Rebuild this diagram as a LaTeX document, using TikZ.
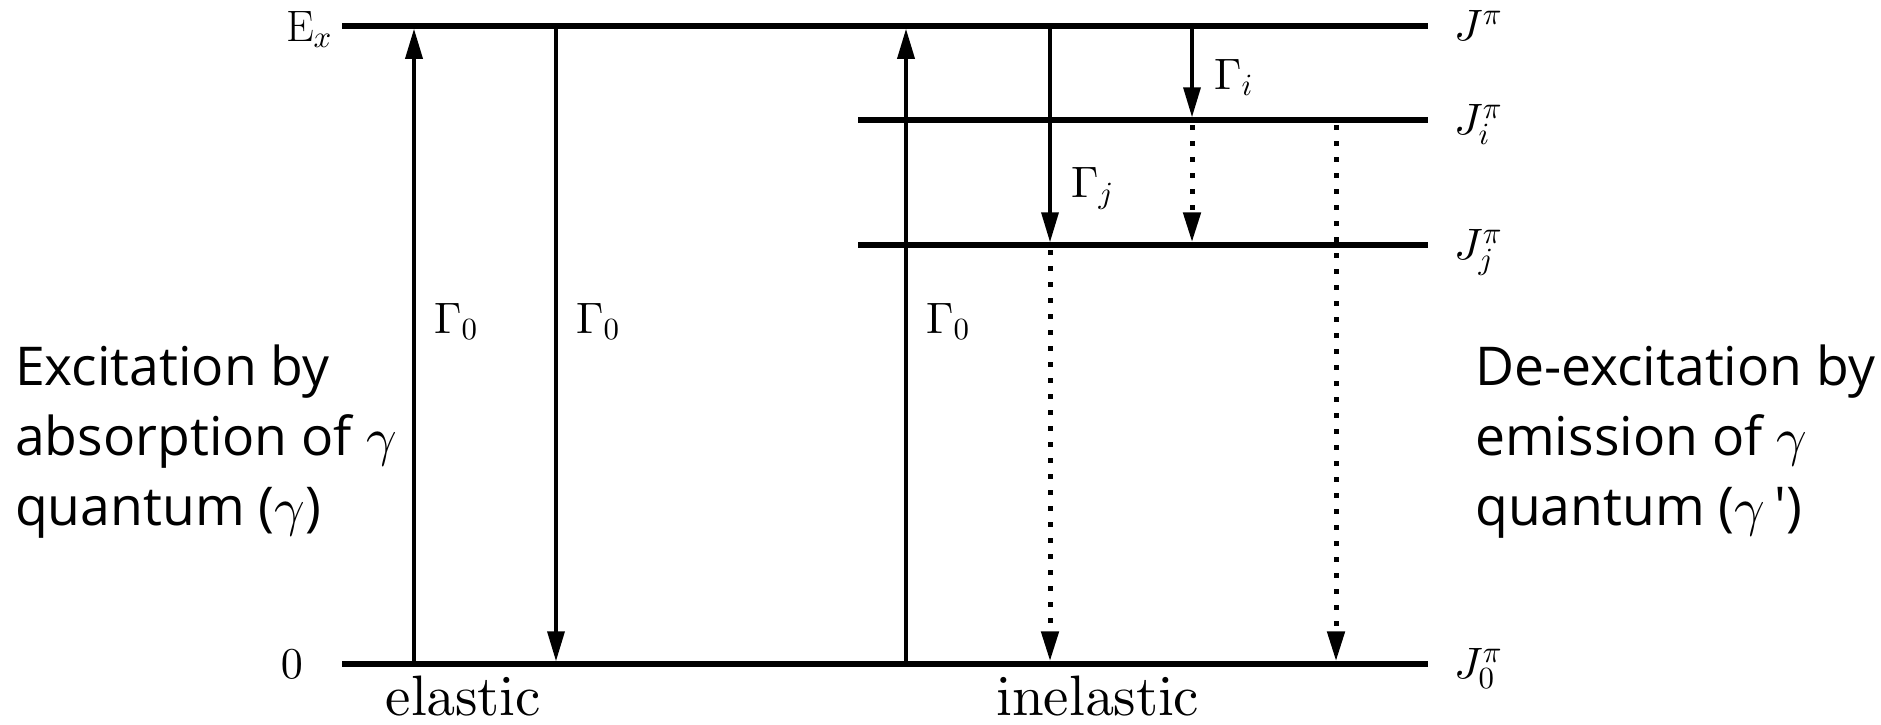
\documentclass[tikz,border=0pt]{standalone}
\DeclareFontShape{OT1}{cmr}{m}{n}{<-> cmr10}{}
\DeclareFontShape{OML}{cmm}{m}{it}{<-> cmmi10}{}
\DeclareFontShape{OMS}{cmsy}{m}{n}{<-> cmsy10}{}
\usepackage{fontspec}
\newfontfamily\osans{Open Sans}
\newcommand\cmten{\fontencoding{OT1}\fontfamily{cmr}\selectfont}
\usetikzlibrary{arrows.meta}
\tikzset{
  level/.style={line width=5.5pt},
  tipstyle/.style={-{Triangle[length=30pt,width=17pt]}},
  trans/.style={line width=3.5pt, tipstyle},
  dottrans/.style={line width=5pt, dash pattern=on 5pt off 11pt, tipstyle},
  mlab/.style={inner sep=0pt, font=\fontsize{44}{52}\selectfont},
  wlab/.style={inner sep=0pt, font=\cmten\fontsize{57}{68}\selectfont},
  sidetext/.style={inner sep=0pt, anchor=north west, align=left, font=\osans\fontsize{53.5}{70}\selectfont}
}
\begin{document}
\begin{tikzpicture}[x=1pt,y=-1pt]
\useasboundingbox (0,0) rectangle (1881,724);
% level end points
\coordinate (TL) at (342,26);  \coordinate (TR) at (1428,26);
\coordinate (IL) at (858,120); \coordinate (IR) at (1428,120);
\coordinate (JL) at (858,245); \coordinate (JR) at (1428,245);
\coordinate (BL) at (342,664); \coordinate (BR) at (1428,664);
\draw[level] (TL) -- (TR);
\draw[level] (IL) -- (IR);
\draw[level] (JL) -- (JR);
\draw[level] (BL) -- (BR);
% transition end points
\coordinate (a1b) at (414,664);  \coordinate (a1t) at (414,28.75);
\coordinate (a2t) at (556,26);   \coordinate (a2b) at (556,661.25);
\coordinate (a3b) at (906,664);  \coordinate (a3t) at (906,28.75);
\coordinate (a4t) at (1050,26);  \coordinate (a4j) at (1050,242.25);
\coordinate (a4s) at (1050,250); \coordinate (a4b) at (1050,661.25);
\coordinate (a5t) at (1192,26);  \coordinate (a5i) at (1192,117.25);
\coordinate (a5s) at (1192,125); \coordinate (a5j) at (1192,242.25);
\coordinate (a6s) at (1336,125); \coordinate (a6b) at (1336,661.25);
\draw[trans] (a1b) -- (a1t);
\draw[trans] (a2t) -- (a2b);
\draw[trans] (a3b) -- (a3t);
\draw[trans] (a4t) -- (a4j);
\draw[dottrans] (a4s) -- (a4b);
\draw[trans] (a5t) -- (a5i);
\draw[dottrans] (a5s) -- (a5j);
\draw[dottrans] (a6s) -- (a6b);
% labels
\node[mlab, anchor=base east] (ex) at (332,41) {$\mathrm{E}_x$};
\node[mlab, anchor=east] (zero) at (303,664) {$0$};
\node[mlab, anchor=base west] (jt) at (1454,40) {$J^{\pi}$};
\node[mlab, anchor=base west] (ji) at (1454,134) {$J^{\pi}_{i}$};
\node[mlab, anchor=base west] (jj) at (1454,259) {$J^{\pi}_{j}$};
\node[mlab, anchor=base west] (j0) at (1454,678) {$J^{\pi}_{0}$};
\node[mlab, anchor=base west] (g1) at (434,333) {$\Gamma_0$};
\node[mlab, anchor=base west] (g2) at (576,333) {$\Gamma_0$};
\node[mlab, anchor=base west] (g3) at (926,333) {$\Gamma_0$};
\node[mlab, anchor=base west] (gj) at (1071,197) {$\Gamma_j$};
\node[mlab, anchor=base west] (gi) at (1214,89) {$\Gamma_i$};
\node[wlab, anchor=base] (el) at (463.5,715) {elastic};
\node[wlab, anchor=base] (inel) at (1098,715) {inelastic};
\node[sidetext] (exc) at (15,345) {Excitation by\\absorption of $\gamma$\\quantum ($\gamma$)};
\node[sidetext] (dexc) at (1475,345) {De-excitation by\\emission of $\gamma$\\quantum ($\gamma$\,\textquotesingle)};
\end{tikzpicture}
\end{document}
